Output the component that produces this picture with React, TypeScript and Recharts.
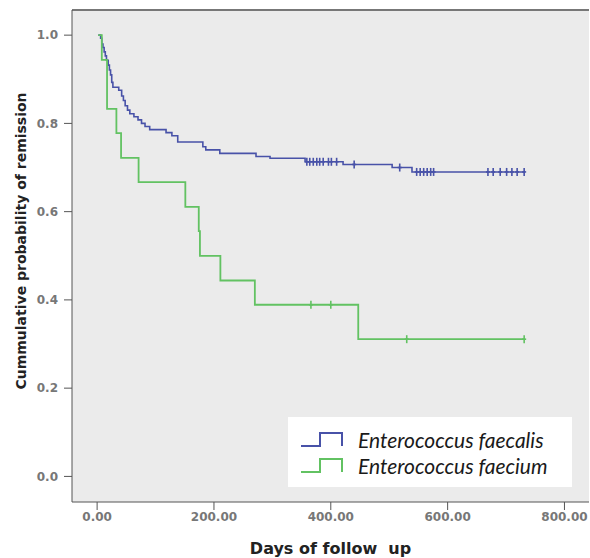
import {
  ComposedChart,
  CartesianGrid,
  Line,
  Scatter,
  XAxis,
  YAxis,
  ReferenceLine,
} from "recharts"

// Kaplan-Meier steps: [day, survival after event]
const faecalisSteps: [number, number][] = [
  [2, 1.0], [6, 0.993], [8, 0.98], [10, 0.972], [12, 0.962], [14, 0.953],
  [16, 0.943], [19, 0.932], [21, 0.921], [23, 0.91], [25, 0.893], [27, 0.882],
  [37, 0.875], [42, 0.862], [45, 0.852], [48, 0.84], [52, 0.83], [56, 0.822],
  [63, 0.815], [70, 0.808], [76, 0.8], [82, 0.793], [90, 0.786], [118, 0.779],
  [128, 0.772], [138, 0.758], [181, 0.747], [186, 0.74], [210, 0.732],
  [272, 0.725], [296, 0.721], [356, 0.713], [421, 0.707], [505, 0.7],
  [539, 0.69], [732, 0.69],
]
const faecalisCensored: [number, number][] = [
  [359, 0.713], [364, 0.713], [370, 0.713], [376, 0.713], [381, 0.713],
  [387, 0.713], [396, 0.713], [401, 0.713], [410, 0.713], [440, 0.707],
  [518, 0.7], [547, 0.69], [553, 0.69], [559, 0.69], [565, 0.69], [571, 0.69],
  [576, 0.69], [669, 0.69], [678, 0.69], [690, 0.69], [701, 0.69], [710, 0.69],
  [719, 0.69], [731, 0.69],
]

const faeciumSteps: [number, number][] = [
  [2, 1.0], [8, 0.944], [17, 0.833], [33, 0.778], [41, 0.722], [71, 0.667],
  [151, 0.611], [174, 0.556], [176, 0.5], [211, 0.444], [270, 0.389],
  [447, 0.311], [731, 0.311],
]
const faeciumCensored: [number, number][] = [
  [366, 0.389], [400, 0.389], [530, 0.311], [731, 0.311],
]

const xTicks = [0, 200, 400, 600, 800]
const yTicks = [0, 0.2, 0.4, 0.6, 0.8, 1.0]
const seriesNames = ["Enterococcus faecalis", "Enterococcus faecium"]

const BLUE = "#4852a8"
const GREEN = "#62c262"

const toRows = (pts: [number, number][]) => pts.map(([day, p]) => ({ day, p }))

const CensorMark = (color: string) => (props: any) => {
  const { cx, cy } = props
  return (
    <g>
      <line x1={cx} x2={cx} y1={cy - 4} y2={cy + 4} stroke={color} strokeWidth={1.6} />
      <line x1={cx - 2} x2={cx + 2} y1={cy} y2={cy} stroke={color} strokeWidth={1.6} />
    </g>
  )
}

function LegendBox() {
  const colors = [BLUE, GREEN]
  return (
    <div
      style={{
        position: "absolute",
        left: 288,
        top: 417,
        background: "#fff",
        width: 284,
        height: 70,
        boxSizing: "border-box",
        padding: "9px 0 0 12px",
      }}
    >
      {seriesNames.map((name, i) => (
        <div key={name} style={{ display: "flex", alignItems: "center", height: 26 }}>
          <svg width={46} height={20}>
            <path d="M1 17 H20 V4 H42 V17" fill="none" stroke={colors[i]} strokeWidth={2} />
          </svg>
          <span
            style={{
              marginLeft: 12,
              fontFamily: "Lato",
              fontStyle: "italic",
              fontSize: 21,
              color: "#1a1a1a",
            }}
          >
            {name}
          </span>
        </div>
      ))}
    </div>
  )
}

const YTitle = () => (
  <text
    x={21}
    y={241}
    transform="rotate(-90 21 241)"
    textAnchor="middle"
    dominantBaseline="central"
    style={{ fontFamily: "DejaVu Sans", fontWeight: "bold", fontSize: 14, fill: "#222" }}
  >
    Cummulative probability of remission
  </text>
)

export default function App() {
  const tickStyle = { fontFamily: "DejaVu Sans", fontSize: 12, fontWeight: "bold", fill: "#777" }
  return (
    <div style={{ position: "absolute", left: 0, top: 0, width: 590, height: 558, background: "#fff" }}>
      <ComposedChart width={590} height={558} margin={{ top: 10, right: 1, bottom: 0, left: 0 }}>
        <CartesianGrid horizontal={false} vertical={false} fill="#ebebeb" />
        <XAxis
          type="number"
          dataKey="day"
          domain={[-43, 842]}
          allowDataOverflow
          ticks={xTicks}
          tickFormatter={(v: number) => v.toFixed(2)}
          height={56}
          tickSize={8}
          stroke="#555"
          tick={tickStyle}
          label={{
            value: "Days of follow\u00a0 up",
            position: "insideBottom",
            offset: 4,
            style: { fontFamily: "DejaVu Sans", fontWeight: "bold", fontSize: 16, fill: "#222" },
          }}
        />
        <YAxis
          type="number"
          dataKey="p"
          domain={[-0.058, 1.057]}
          allowDataOverflow
          ticks={yTicks}
          tickFormatter={(v: number) => v.toFixed(1)}
          width={72}
          tickSize={8}
          tickMargin={6}
          stroke="#555"
          tick={tickStyle}
          label={<YTitle />}
        />
        <ReferenceLine y={1.057} stroke="#777" strokeWidth={2} ifOverflow="extendDomain" />
        <Line
          data={toRows(faecalisSteps)}
          dataKey="p"
          type="stepAfter"
          stroke={BLUE}
          strokeWidth={1.6}
          dot={false}
          isAnimationActive={false}
        />
        <Line
          data={toRows(faeciumSteps)}
          dataKey="p"
          type="stepAfter"
          stroke={GREEN}
          strokeWidth={1.8}
          dot={false}
          isAnimationActive={false}
        />
        <Scatter
          data={toRows(faecalisCensored)}
          dataKey="p"
          shape={CensorMark(BLUE)}
          isAnimationActive={false}
        />
        <Scatter
          data={toRows(faeciumCensored)}
          dataKey="p"
          shape={CensorMark(GREEN)}
          isAnimationActive={false}
        />
      </ComposedChart>
      <LegendBox />
    </div>
  )
}
